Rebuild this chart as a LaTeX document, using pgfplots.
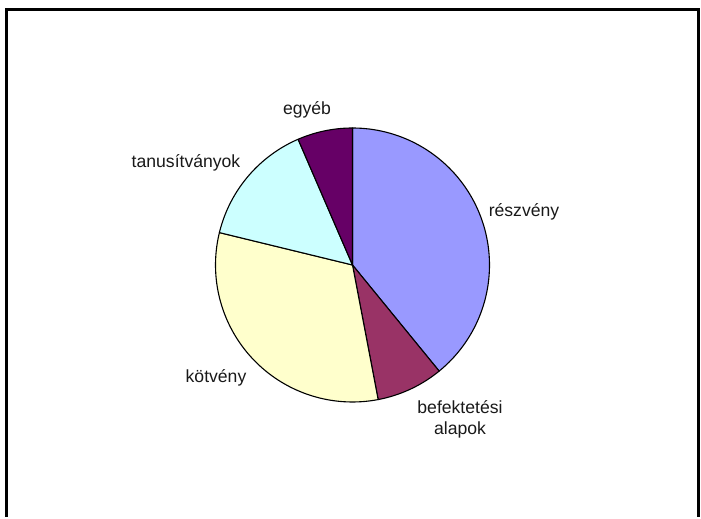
\documentclass[border=0pt]{standalone}
\usepackage{pgfplots}
\pgfplotsset{compat=1.18}
\usepackage{fontspec}
\setmainfont{Liberation Sans}

% Excel 97 palette
\definecolor{cReszveny}{HTML}{9999FF}
\definecolor{cBefekt}{HTML}{993366}
\definecolor{cKotveny}{HTML}{FFFFCC}
\definecolor{cTanus}{HTML}{CCFFFF}
\definecolor{cEgyeb}{HTML}{660066}

% shares in percent, clockwise from 12 o'clock:
% reszveny 39.1, befektetesi alapok 7.9, kotveny 31.8, tanusitvanyok 14.7, egyeb 6.5
\def\cx{352.5}
\def\cy{252}
\def\rr{137}

\begin{document}
\begin{tikzpicture}
\begin{axis}[
  scale only axis, width=701pt, height=517pt,
  xmin=0, xmax=701, ymin=0, ymax=517,
  hide axis, clip=false,
  every axis plot/.append style={draw=black, line width=1.1pt, line join=round, samples=80, variable=\t},
]
\path (axis cs:0,0) rectangle (axis cs:701,517);

\addplot[fill=cReszveny, domain={90-3.6*39.1}:{90}]
  ({\cx+\rr*cos(\t)},{\cy+\rr*sin(\t)}) -- (axis cs:\cx,\cy) -- cycle;
\addplot[fill=cBefekt, domain={90-3.6*(39.1+7.9)}:{90-3.6*39.1}]
  ({\cx+\rr*cos(\t)},{\cy+\rr*sin(\t)}) -- (axis cs:\cx,\cy) -- cycle;
\addplot[fill=cKotveny, domain={90-3.6*(39.1+7.9+31.8)}:{90-3.6*(39.1+7.9)}]
  ({\cx+\rr*cos(\t)},{\cy+\rr*sin(\t)}) -- (axis cs:\cx,\cy) -- cycle;
\addplot[fill=cTanus, domain={90-3.6*(39.1+7.9+31.8+14.7)}:{90-3.6*(39.1+7.9+31.8)}]
  ({\cx+\rr*cos(\t)},{\cy+\rr*sin(\t)}) -- (axis cs:\cx,\cy) -- cycle;
\addplot[fill=cEgyeb, domain={-270}:{90-3.6*(39.1+7.9+31.8+14.7)}]
  ({\cx+\rr*cos(\t)},{\cy+\rr*sin(\t)}) -- (axis cs:\cx,\cy) -- cycle;

\begin{scope}[every node/.style={font=\fontsize{17.6}{21}\selectfont, text=black!90, anchor=base, inner sep=0pt}]
\node at (axis cs:307,402) {egyéb};
\node at (axis cs:524,300) {részvény};
\node at (axis cs:186,349) {tanusítványok};
\node at (axis cs:216,134) {kötvény};
\node at (axis cs:460,103) {befektetési};
\node at (axis cs:460,82) {alapok};
\end{scope}

% chart frame (bottom edge cut off)
\draw[line width=3pt, line cap=butt] (axis cs:6.5,0) -- (axis cs:6.5,507.5) -- (axis cs:698.5,507.5) -- (axis cs:698.5,0);
\end{axis}
\end{tikzpicture}
\end{document}
